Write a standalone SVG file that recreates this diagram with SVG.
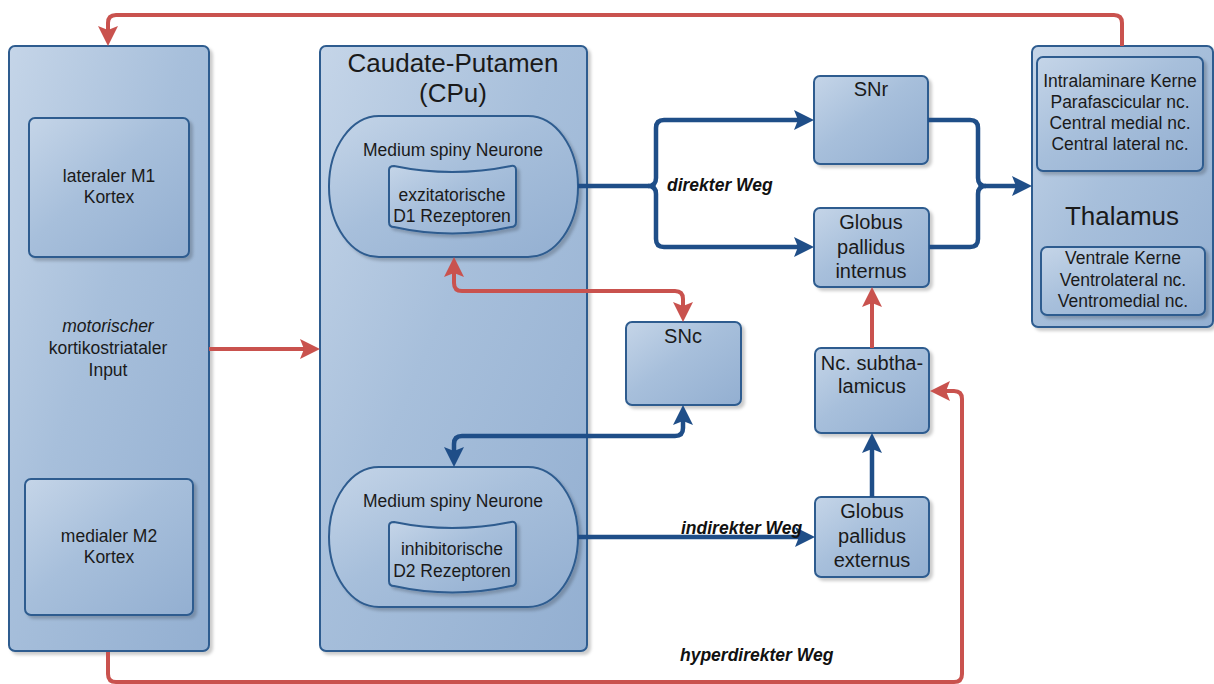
<svg xmlns="http://www.w3.org/2000/svg" width="1214" height="684" viewBox="0 0 1214 684">
<defs>
<linearGradient id="g" x1="0" y1="0" x2="1" y2="1">
<stop offset="0" stop-color="#c5d5e8"/>
<stop offset="0.45" stop-color="#a7bfdb"/>
<stop offset="1" stop-color="#93afd1"/>
</linearGradient>
<filter id="sh" x="-10%" y="-10%" width="130%" height="130%">
<feDropShadow dx="3" dy="3" stdDeviation="1.5" flood-color="#000" flood-opacity="0.2"/>
</filter>
<marker id="ab" viewBox="0 0 20 20" markerUnits="userSpaceOnUse" markerWidth="20" markerHeight="20" refX="13" refY="10" orient="auto-start-reverse">
<path d="M0,0 L20,10 L0,20 L4,10 Z" fill="#1f4e88"/>
</marker>
<marker id="ar" viewBox="0 0 20 20" markerUnits="userSpaceOnUse" markerWidth="20" markerHeight="20" refX="13" refY="10" orient="auto-start-reverse">
<path d="M0,0 L20,10 L0,20 L4,10 Z" fill="#c9524e"/>
</marker>
</defs>
<style>
.b{fill:url(#g);stroke:#2e5c8f;stroke-width:2;filter:url(#sh)}
.t{font-family:"Liberation Sans",Arial,sans-serif;font-size:17.5px;fill:#1a1a1a;text-anchor:middle}
.m{font-size:20px}
.h{font-size:26px}
.i{font-style:italic}
.l{font-family:"Liberation Sans",Arial,sans-serif;font-size:17.5px;font-weight:bold;font-style:italic;fill:#111}
.cb{fill:none;stroke:#1f4e88;stroke-width:4.5}
.cr{fill:none;stroke:#c9524e;stroke-width:4}
</style>

<g id="cortex">
<rect class="b" x="9" y="46" width="200" height="605" rx="6"/>
<text class="t i" x="108" y="332">motorischer</text>
<text class="t" x="108" y="354">kortikostriataler</text>
<text class="t" x="108" y="376">Input</text>
</g>
<g id="m1">
<rect class="b" x="29" y="118" width="160" height="139" rx="6"/>
<text class="t" x="109" y="182">lateraler M1</text>
<text class="t" x="109" y="203">Kortex</text>
</g>
<g id="m2">
<rect class="b" x="25" y="479" width="168" height="136" rx="6"/>
<text class="t" x="109" y="542">medialer M2</text>
<text class="t" x="109" y="563">Kortex</text>
</g>

<g id="cpu">
<rect class="b" x="320" y="46" width="267" height="605" rx="6"/>
<text class="t h" x="453" y="72">Caudate-Putamen</text>
<text class="t h" x="453" y="102">(CPu)</text>
</g>
<g id="msn1">
<rect class="b" x="329" y="116" width="249" height="141" rx="50" ry="70"/>
<text class="t" x="453" y="156">Medium spiny Neurone</text>
</g>
<g id="d1">
<path class="b" d="M394,166 Q452,178 511,166 Q516,165 516,170 L516,222 Q516,227 511,227 Q452,240 394,227 Q389,227 389,222 L389,170 Q389,166 394,166 Z"/>
<text class="t" x="452" y="201">exzitatorische</text>
<text class="t" x="452" y="222">D1 Rezeptoren</text>
</g>
<g id="msn2">
<rect class="b" x="329" y="467" width="249" height="140" rx="50" ry="70"/>
<text class="t" x="453" y="507">Medium spiny Neurone</text>
</g>
<g id="d2">
<path class="b" d="M394,522 Q452,534 511,522 Q516,521 516,526 L516,581 Q516,586 511,586 Q452,599 394,586 Q389,586 389,581 L389,526 Q389,522 394,522 Z"/>
<text class="t" x="452" y="555">inhibitorische</text>
<text class="t" x="452" y="577">D2 Rezeptoren</text>
</g>

<g id="snc">
<rect class="b" x="626" y="322" width="115" height="83" rx="6"/>
<text class="t m" x="683" y="343">SNc</text>
</g>
<g id="snr">
<rect class="b" x="814" y="76" width="114" height="88" rx="6"/>
<text class="t m" x="871" y="96">SNr</text>
</g>
<g id="gpi">
<rect class="b" x="814" y="208" width="115" height="79" rx="6"/>
<text class="t m" x="871" y="229">Globus</text>
<text class="t m" x="871" y="254">pallidus</text>
<text class="t m" x="871" y="278">internus</text>
</g>
<g id="stn">
<rect class="b" x="815" y="348" width="114" height="85" rx="6"/>
<text class="t m" x="872" y="370">Nc. subtha-</text>
<text class="t m" x="872" y="393">lamicus</text>
</g>
<g id="gpe">
<rect class="b" x="815" y="497" width="114" height="80" rx="6"/>
<text class="t m" x="872" y="518">Globus</text>
<text class="t m" x="872" y="543">pallidus</text>
<text class="t m" x="872" y="567">externus</text>
</g>

<g id="thalamus">
<rect class="b" x="1032" y="46" width="181" height="281" rx="6"/>
<text class="t h" x="1122" y="225">Thalamus</text>
</g>
<g id="intralaminar">
<rect class="b" x="1037" y="57" width="166" height="114" rx="6"/>
<text class="t" x="1120" y="87">Intralaminare Kerne</text>
<text class="t" x="1120" y="108">Parafascicular nc.</text>
<text class="t" x="1120" y="129">Central medial nc.</text>
<text class="t" x="1120" y="150">Central lateral nc.</text>
</g>
<g id="ventral">
<rect class="b" x="1041" y="247" width="164" height="68" rx="6"/>
<text class="t" x="1123" y="264">Ventrale Kerne</text>
<text class="t" x="1123" y="286">Ventrolateral nc.</text>
<text class="t" x="1123" y="307">Ventromedial nc.</text>
</g>

<g id="connectors">
<path class="cr" d="M1122,46 L1122,23 Q1122,15 1114,15 L116,15 Q108,15 108,23 L108,39" marker-end="url(#ar)"/>
<path class="cr" d="M108,652 L108,674 Q108,682 116,682 L954,682 Q962,682 962,674 L962,399 Q962,391 954,391 L937,391" marker-end="url(#ar)"/>
<path class="cr" d="M209,349 L313,349" marker-end="url(#ar)"/>
<path class="cr" d="M454,264 L454,283 Q454,291 462,291 L675,291 Q683,291 683,299 L683,315" marker-start="url(#ar)" marker-end="url(#ar)"/>
<path class="cr" d="M872,348 L872,294" marker-end="url(#ar)"/>
<path class="cb" d="M683,412 L683,428 Q683,436 675,436 L462,436 Q454,436 454,444 L454,460" marker-start="url(#ab)" marker-end="url(#ab)"/>
<path class="cb" d="M872,497 L872,440" marker-end="url(#ab)"/>
<path class="cb" d="M578,537 L808,537" marker-end="url(#ab)"/>
<path class="cb" d="M578,186 L648,186 Q656,186 656,178 L656,128 Q656,120 664,120 L807,120" marker-end="url(#ab)"/>
<path class="cb" d="M648,186 Q656,186 656,194 L656,239 Q656,247 664,247 L807,247" marker-end="url(#ab)"/>
<path class="cb" d="M928,120 L970,120 Q978,120 978,128 L978,178 Q978,186 986,186 L1025,186" marker-end="url(#ab)"/>
<path class="cb" d="M929,247 L970,247 Q978,247 978,239 L978,194 Q978,186 986,186"/>
<text class="l" x="667" y="191">direkter Weg</text>
<text class="l" x="681" y="534">indirekter Weg</text>
<text class="l" x="680" y="661">hyperdirekter Weg</text>
</g>
</svg>
